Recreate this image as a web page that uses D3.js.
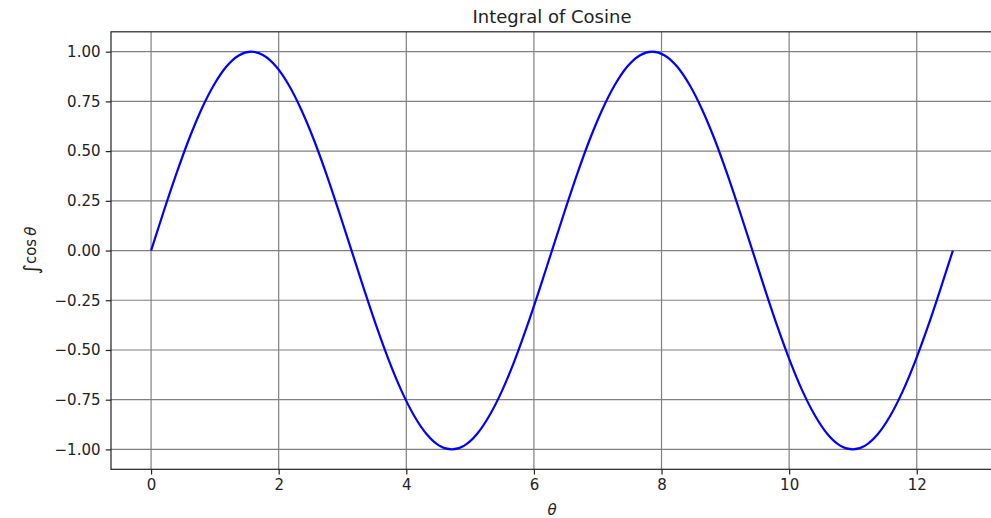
<!DOCTYPE html>
<html>
<head>
<meta charset="utf-8">
<script src="https://cdn.jsdelivr.net/npm/d3@7"></script>
<style>
  body { margin: 0; background: #fff; }
  svg { display: block; font-family: "DejaVu Sans", sans-serif; }
</style>
</head>
<body>
<svg id="chart" width="991" height="518"></svg>
<script>
// theta values (x)
var thetaValues = [0, 0.196, 0.393, 0.589, 0.785, 0.982, 1.178, 1.374, 1.571, 1.767, 1.963, 2.160, 2.356,
    2.553, 2.749, 2.945, 3.142, 3.338, 3.534, 3.731, 3.927, 4.123, 4.320, 4.516, 4.712, 4.909, 5.105,
    5.301, 5.498, 5.694, 5.890, 6.087, 6.283, 6.480, 6.676, 6.872, 7.069, 7.265, 7.461, 7.658, 7.854,
    8.050, 8.247, 8.443, 8.639, 8.836, 9.032, 9.228, 9.425, 9.621, 9.817, 10.014, 10.210, 10.407,
    10.603, 10.799, 10.996, 11.192, 11.388, 11.585, 11.781, 11.977, 12.174, 12.370, 12.566];

// integral of cosine (y) at each theta
var integralValues = [0, 0.195, 0.383, 0.556, 0.707, 0.831, 0.924, 0.981, 1, 0.981, 0.924, 0.831, 0.707,
    0.556, 0.383, 0.195, 0, -0.195, -0.383, -0.556, -0.707, -0.831, -0.924, -0.981, -1, -0.981, -0.924,
    -0.831, -0.707, -0.556, -0.383, -0.195, 0, 0.195, 0.383, 0.556, 0.707, 0.831, 0.924, 0.981, 1,
    0.981, 0.924, 0.831, 0.707, 0.556, 0.383, 0.195, 0, -0.195, -0.383, -0.556, -0.707, -0.831,
    -0.924, -0.981, -1, -0.981, -0.924, -0.831, -0.707, -0.556, -0.383, -0.195, 0];

var xTicks = [0, 2, 4, 6, 8, 10, 12];
var yTicks = [-1, -0.75, -0.5, -0.25, 0, 0.25, 0.5, 0.75, 1];

var TITLE = "Integral of Cosine";

// layout
var LEFT = 111, RIGHT = 993, TOP = 31.8, BOTTOM = 469.3;
var LINE_COLOR = "#0000ff";
var GRID_COLOR = "#808080";

var svg = d3.select("#chart");

var x = d3.scaleLinear().domain([-0.628, 13.195]).range([LEFT, RIGHT]);
var y = d3.scaleLinear().domain([-1.1, 1.1]).range([BOTTOM, TOP]);

// grid
svg.append("g").selectAll("line")
    .data(xTicks).enter().append("line")
    .attr("x1", function(d) { return x(d); })
    .attr("x2", function(d) { return x(d); })
    .attr("y1", TOP).attr("y2", BOTTOM)
    .attr("stroke", GRID_COLOR).attr("stroke-width", 1.2);

svg.append("g").selectAll("line")
    .data(yTicks).enter().append("line")
    .attr("y1", function(d) { return y(d); })
    .attr("y2", function(d) { return y(d); })
    .attr("x1", LEFT).attr("x2", RIGHT)
    .attr("stroke", GRID_COLOR).attr("stroke-width", 1.2);

// axes
var xAxis = d3.axisBottom(x).tickValues(xTicks).tickFormat(d3.format("d"))
    .tickSize(5.25).tickPadding(5.25);
var yAxis = d3.axisLeft(y).tickValues(yTicks).tickFormat(d3.format(".2f"))
    .tickSize(5.25).tickPadding(5.25);

var gx = svg.append("g").attr("transform", "translate(0," + BOTTOM + ")").call(xAxis);
var gy = svg.append("g").attr("transform", "translate(" + LEFT + ",0)").call(yAxis);

[gx, gy].forEach(function(g) {
    g.select(".domain").remove();
    g.selectAll(".tick line").attr("stroke", "#222").attr("stroke-width", 1.2);
    g.selectAll(".tick text").attr("fill", "#222").style("font-size", "15px")
        .style("font-family", "DejaVu Sans, sans-serif");
});

// the curve
var points = thetaValues.map(function(t, i) { return [t, integralValues[i]]; });
var line = d3.line()
    .x(function(d) { return x(d[0]); })
    .y(function(d) { return y(d[1]); })
    .curve(d3.curveMonotoneX);

svg.append("path")
    .datum(points)
    .attr("d", line)
    .attr("fill", "none")
    .attr("stroke", LINE_COLOR)
    .attr("stroke-width", 2.2)
    .attr("stroke-linejoin", "round");

// frame
svg.append("rect")
    .attr("x", LEFT).attr("y", TOP)
    .attr("width", RIGHT - LEFT).attr("height", BOTTOM - TOP)
    .attr("fill", "none").attr("stroke", "#222").attr("stroke-width", 1.2);

// title
svg.append("text")
    .attr("x", (LEFT + RIGHT) / 2).attr("y", 23)
    .attr("text-anchor", "middle")
    .style("font-size", "18px").attr("fill", "#222")
    .text(TITLE);

// x label
svg.append("text")
    .attr("x", (LEFT + RIGHT) / 2).attr("y", 515)
    .attr("text-anchor", "middle")
    .style("font-size", "15px").style("font-style", "italic").attr("fill", "#222")
    .text("θ");

// y label: integral sign, cos, italic theta
var yl = svg.append("text")
    .attr("transform", "translate(36," + ((TOP + BOTTOM) / 2) + ") rotate(-90)")
    .attr("text-anchor", "middle")
    .style("font-size", "15px").attr("fill", "#222");
yl.append("tspan").style("font-size", "20px").attr("dy", "2").text("∫");
yl.append("tspan").attr("dy", "-2").text("cos");
yl.append("tspan").style("font-style", "italic").attr("dx", "3").text("θ");
</script>
</body>
</html>
